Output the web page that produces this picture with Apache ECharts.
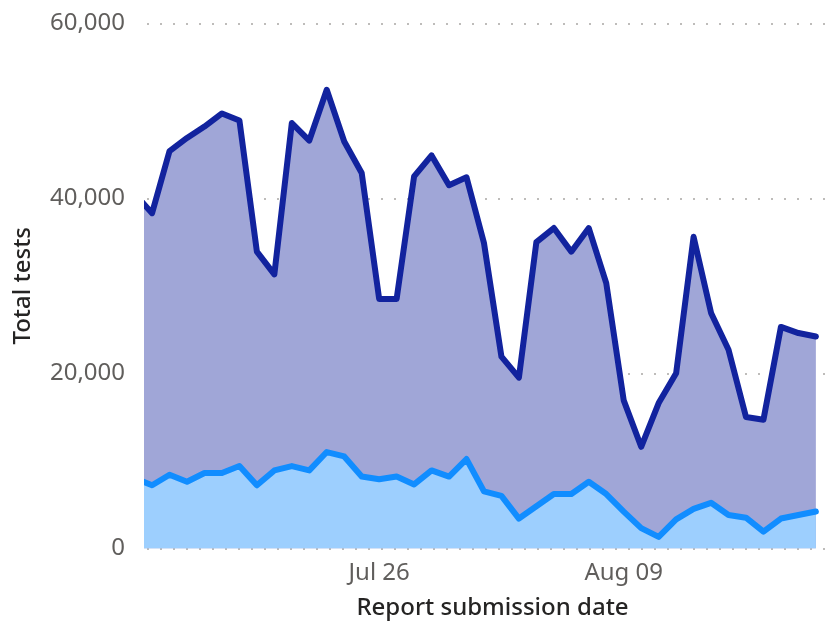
<!DOCTYPE html>
<html>
<head>
<meta charset="utf-8">
<script src="https://cdn.jsdelivr.net/npm/echarts@6/dist/echarts.min.js"></script>
<style>html,body{margin:0;padding:0;background:#fff;}#chart{width:839px;height:626px;}</style>
</head>
<body>
<div id="chart"></div>
<script>
const dates = ["2020-07-12","2020-07-13","2020-07-14","2020-07-15","2020-07-16","2020-07-17","2020-07-18","2020-07-19","2020-07-20","2020-07-21",
  "2020-07-22","2020-07-23","2020-07-24","2020-07-25","2020-07-26","2020-07-27","2020-07-28","2020-07-29","2020-07-30","2020-07-31",
  "2020-08-01","2020-08-02","2020-08-03","2020-08-04","2020-08-05","2020-08-06","2020-08-07","2020-08-08","2020-08-09","2020-08-10",
  "2020-08-11","2020-08-12","2020-08-13","2020-08-14","2020-08-15","2020-08-16","2020-08-17","2020-08-18","2020-08-19","2020-08-20"];
const totalTests = [40500,38300,45400,46900,48200,49700,48900,33900,31300,48600,
  46600,52400,46500,42900,28500,28500,42500,44900,41500,42400,
  34900,21900,19500,35000,36600,33900,36600,30300,16900,11600,
  16600,20000,35600,26900,22700,15000,14700,25300,24600,24200];
const positiveTests = [8000,7200,8400,7600,8600,8600,9400,7200,8900,9400,
  8900,11000,10500,8200,7900,8200,7300,8900,8200,10200,
  6500,6000,3400,4800,6200,6200,7600,6200,4200,2300,
  1300,3300,4500,5200,3800,3500,1900,3400,3800,4200];
const xTickLabels = ["2020-07-26","2020-08-09"];
const yTicks = [0,20000,40000,60000];

const DAY = 86400000;
const ts = s => Date.parse(s + "T00:00:00Z");
const monthNames = ["Jan","Feb","Mar","Apr","May","Jun","Jul","Aug","Sep","Oct","Nov","Dec"];
const fmtDate = v => { const d = new Date(v); return monthNames[d.getUTCMonth()] + " " + String(d.getUTCDate()).padStart(2,"0"); };

const chart = echarts.init(document.getElementById("chart"), null, {renderer: "canvas"});
const font = "Noto Sans";
chart.setOption({
  animation: false,
  grid: {left: 147, right: 13, top: 23.3, bottom: 77.7, containLabel: false},
  xAxis: {
    type: "value",
    min: ts("2020-07-13") - 0.29 * DAY,
    max: ts("2020-07-13") + 38.58 * DAY,
    name: "Report submission date",
    nameLocation: "middle",
    nameGap: 48,
    nameTextStyle: {fontFamily: font, fontSize: 24, fontWeight: 500, color: "#252423", padding: [0, 0, 0, 12]},
    axisLine: {show: false},
    axisTick: {show: false},
    splitLine: {show: false},
    axisLabel: {
      customValues: xTickLabels.map(ts),
      formatter: v => fmtDate(v),
      fontFamily: font, fontSize: 24, color: "#605E5C", margin: 13
    }
  },
  yAxis: {
    type: "value",
    min: yTicks[0], max: yTicks[yTicks.length - 1], interval: 20000,
    name: "Total tests",
    nameLocation: "middle",
    nameGap: 112,
    nameTextStyle: {fontFamily: font, fontSize: 24, fontWeight: 500, color: "#252423"},
    axisLine: {show: false},
    axisTick: {show: false},
    axisLabel: {
      formatter: v => v.toLocaleString("en-US"),
      fontFamily: font, fontSize: 24, color: "#605E5C", margin: 22
    },
    splitLine: {show: true, lineStyle: {color: "#BEBCBA", width: 2, type: [2, 11]}}
  },
  series: [
    {
      name: "Total tests", type: "line", symbol: "none", clip: true,
      data: dates.map((d, i) => [ts(d), totalTests[i]]),
      lineStyle: {color: "#12239E", width: 6, join: "round", cap: "round"},
      areaStyle: {color: "#A0A6D7", opacity: 1},
      z: 2
    },
    {
      name: "Positive tests", type: "line", symbol: "none", clip: true,
      data: dates.map((d, i) => [ts(d), positiveTests[i]]),
      lineStyle: {color: "#118DFF", width: 6, join: "round", cap: "round"},
      areaStyle: {color: "#9DCFFE", opacity: 1},
      z: 3
    }
  ]
});
</script>
</body>
</html>
